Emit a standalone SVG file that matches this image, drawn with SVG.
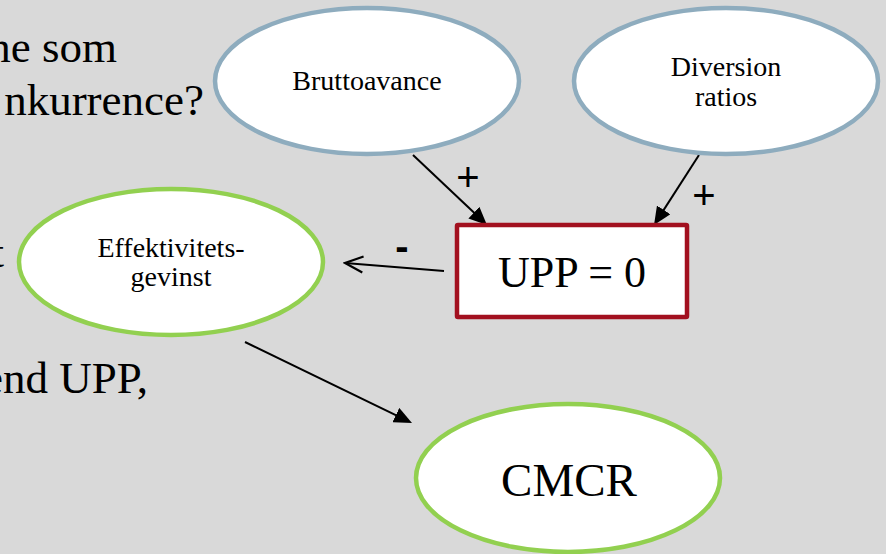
<svg xmlns="http://www.w3.org/2000/svg" width="886" height="554" viewBox="0 0 886 554">
  <style>
    .bg-text { font-family: "Liberation Serif", "Times New Roman", serif; font-size: 45px; fill: #000; }
    .node-blue { fill: #fff; stroke: #8EACBE; stroke-width: 4.5; }
    .node-green { fill: #fff; stroke: #92D050; stroke-width: 4.5; }
    .node-red { fill: #fff; stroke: #A2101F; stroke-width: 4.5; }
    .label { font-family: "Liberation Serif", "Times New Roman", serif; font-size: 28px; fill: #000; text-anchor: middle; }
    .big { font-size: 47px; }
    .sign { font-family: "Liberation Sans", Arial, sans-serif; font-size: 40px; fill: #000; text-anchor: middle; }
    .edge { stroke: #000; stroke-width: 2; fill: none; }
  </style>
  <defs>
    <marker id="arrowFilled" viewBox="0 0 18 16" markerWidth="18" markerHeight="16" refX="8" refY="8" orient="auto" markerUnits="userSpaceOnUse">
      <path d="M0,0 L18,8 L0,16 z" fill="#000"/>
    </marker>
    <marker id="arrowOpen" viewBox="-2 -2 22 20" markerWidth="22" markerHeight="20" refX="18" refY="8" orient="auto" markerUnits="userSpaceOnUse">
      <path d="M0,0 L18,8 L0,16" fill="none" stroke="#000" stroke-width="2.2"/>
    </marker>
  </defs>

  <rect width="886" height="554" fill="#D9D9D9"/>

  <!-- slide body text behind the diagram -->
  <text class="bg-text" x="117" y="62" text-anchor="end">ne som</text>
  <text class="bg-text" x="204" y="115" text-anchor="end">nkurrence?</text>
  <text class="bg-text" x="4" y="267" text-anchor="end">t</text>
  <text class="bg-text" x="148" y="393" text-anchor="end">end UPP,</text>

  <!-- connectors -->
  <g id="connectors">
    <line class="edge" x1="413" y1="155" x2="479.7" y2="218.1" marker-end="url(#arrowFilled)"/>
    <line class="edge" x1="699" y1="155" x2="659.4" y2="216.6" marker-end="url(#arrowFilled)"/>
    <line class="edge" x1="444" y1="271" x2="345" y2="263" marker-end="url(#arrowOpen)"/>
    <line class="edge" x1="245" y1="342" x2="403" y2="418.6" marker-end="url(#arrowFilled)"/>
    <text class="sign" x="468" y="191">+</text>
    <text class="sign" x="704" y="209">+</text>
    <text class="sign" x="402" y="260" font-weight="bold">-</text>
  </g>

  <g id="bruttoavance">
    <ellipse class="node-blue" cx="367" cy="81" rx="152" ry="73"/>
    <text class="label" x="367" y="90">Bruttoavance</text>
  </g>

  <g id="diversion-ratios">
    <ellipse class="node-blue" cx="726" cy="81" rx="152" ry="73"/>
    <text class="label" x="726" y="76">Diversion</text>
    <text class="label" x="726" y="106">ratios</text>
  </g>

  <g id="upp">
    <rect class="node-red" x="457" y="225" width="230" height="92" rx="1"/>
    <text class="label" x="572" y="287" style="font-size:44px">UPP = 0</text>
  </g>

  <g id="effektivitetsgevinst">
    <ellipse class="node-green" cx="171" cy="262" rx="152" ry="73"/>
    <text class="label" x="171" y="257">Effektivitets-</text>
    <text class="label" x="171" y="286">gevinst</text>
  </g>

  <g id="cmcr">
    <ellipse class="node-green" cx="568" cy="478" rx="152" ry="74"/>
    <text class="label big" x="569" y="496">CMCR</text>
  </g>
</svg>
